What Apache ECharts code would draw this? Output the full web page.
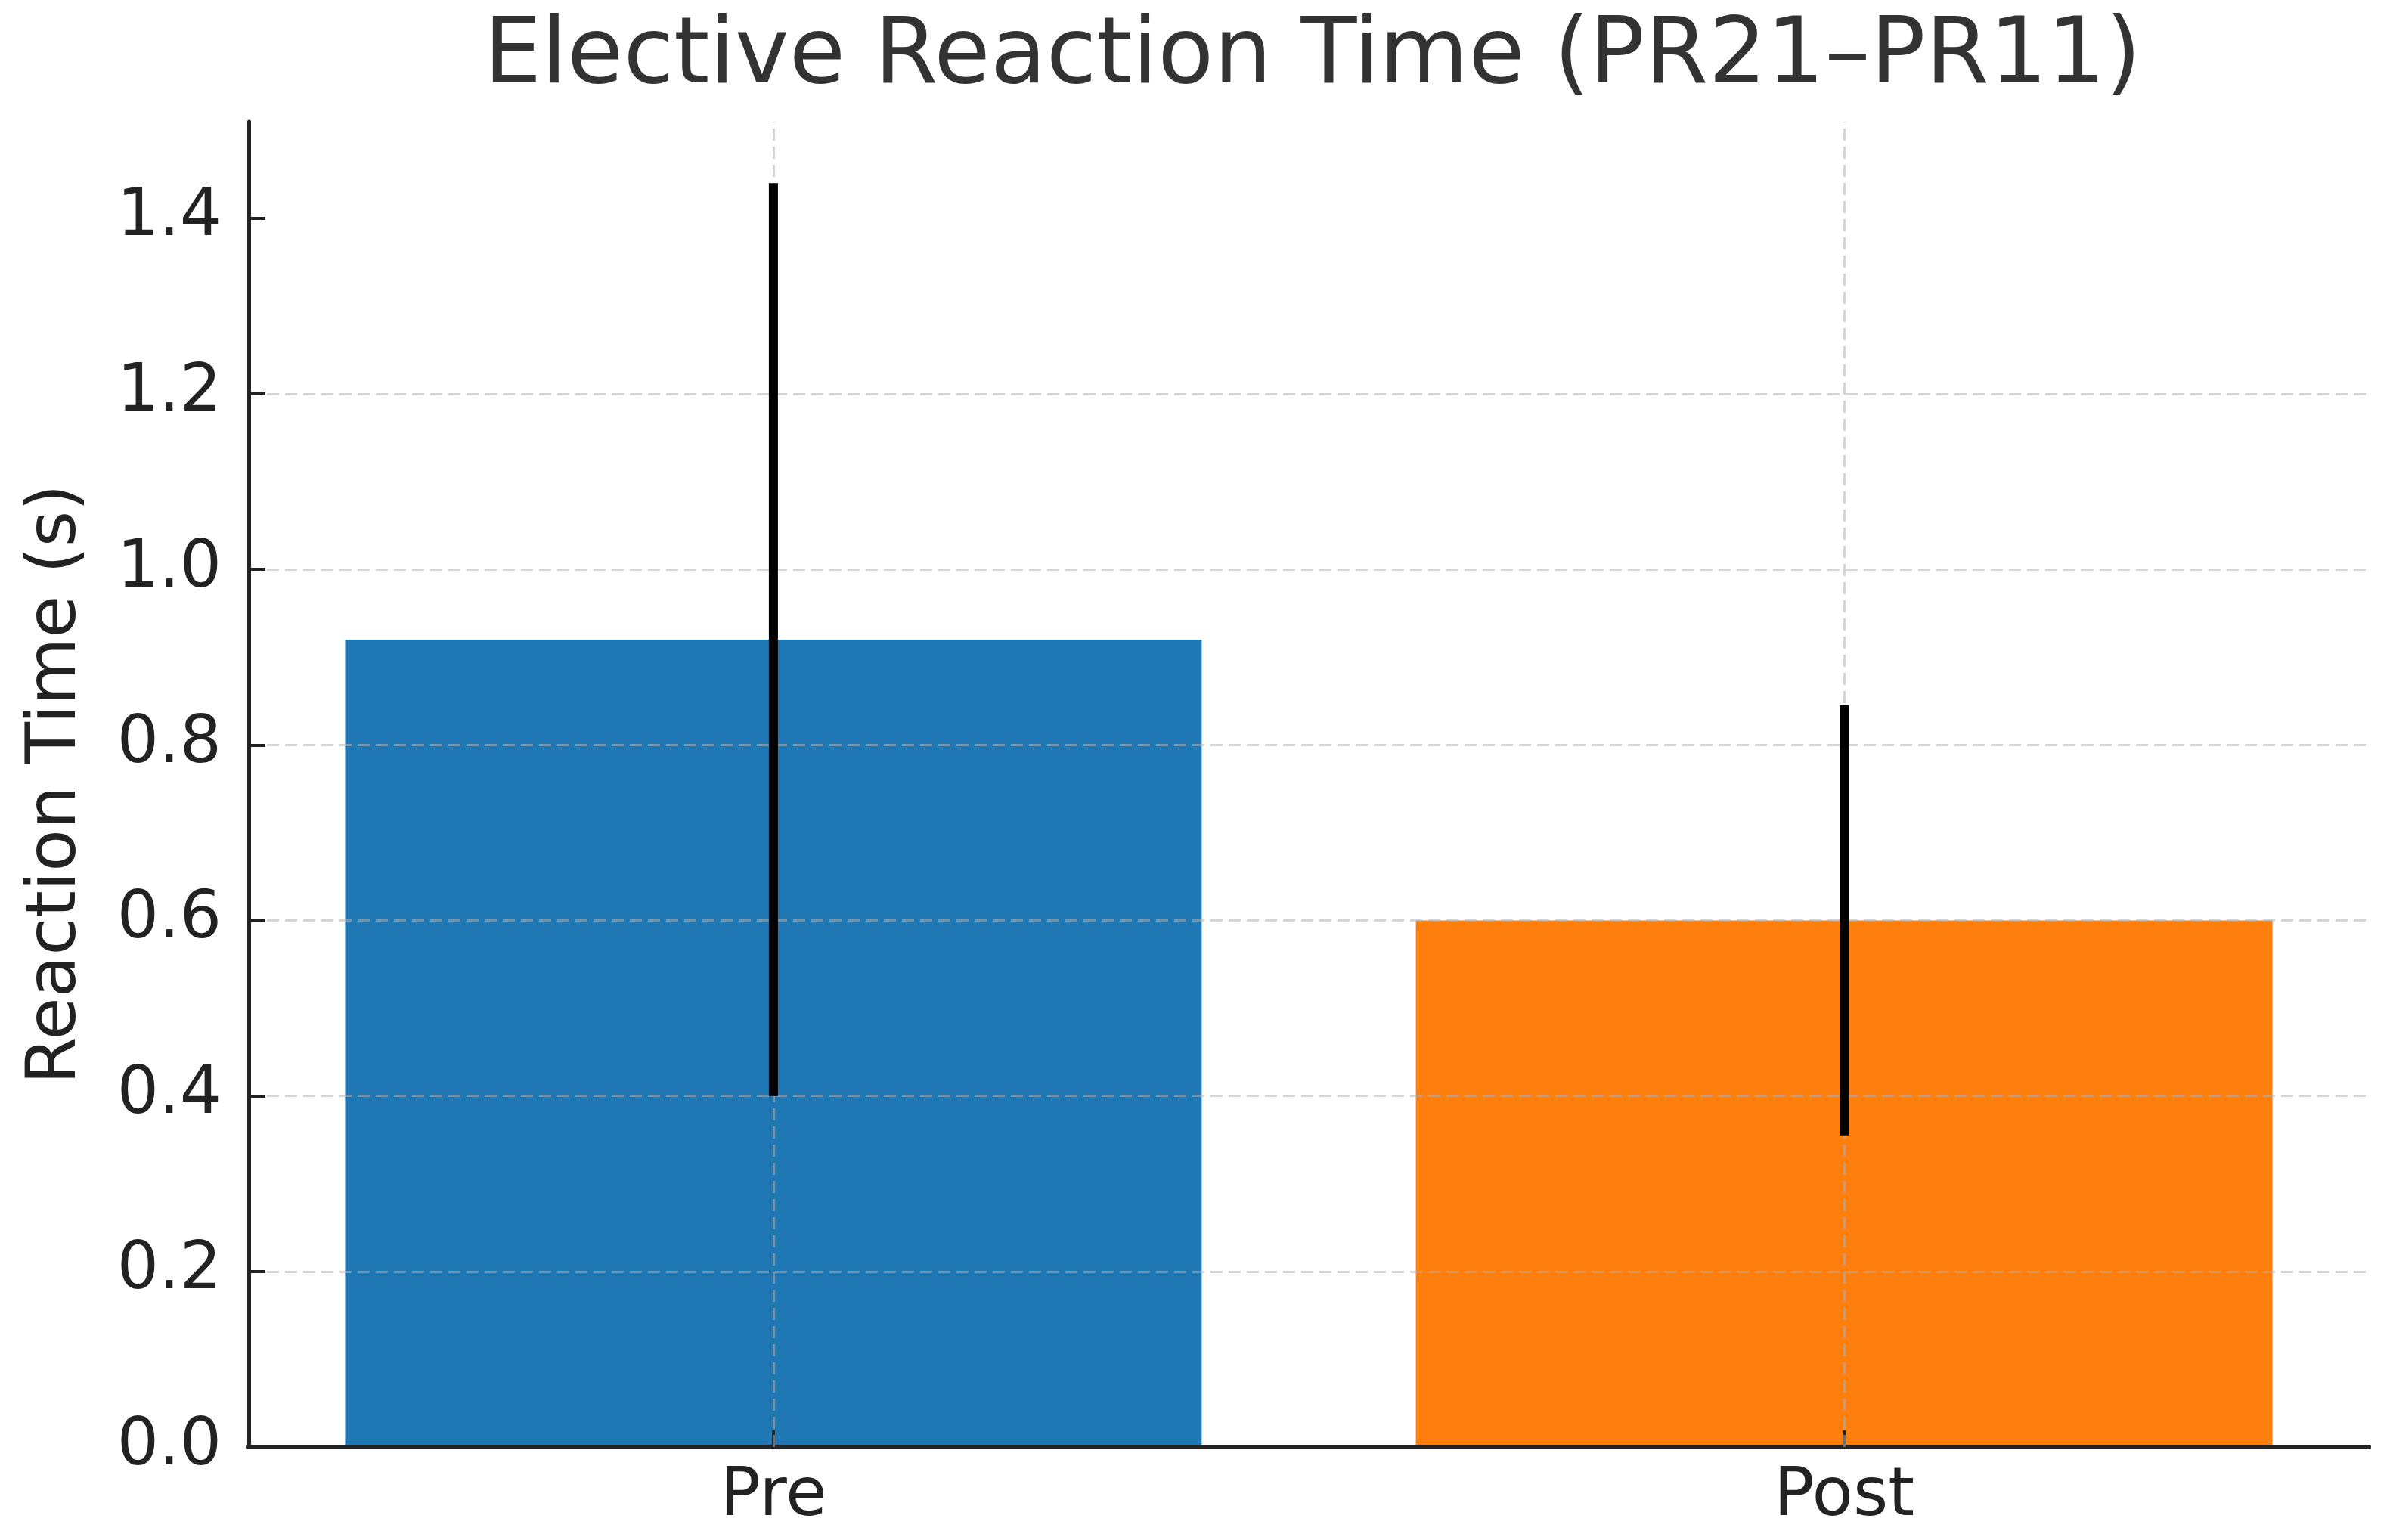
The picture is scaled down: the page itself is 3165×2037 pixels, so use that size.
<!DOCTYPE html>
<html lang="en">
<head>
  <meta charset="UTF-8">
  <title>Elective Reaction Time</title>
  <style>
    html, body { margin: 0; padding: 0; background: #fff; }
    #main { width: 3165px; height: 2037px; }
  </style>
</head>
<body>
  <div id="main"></div>
  <script src="https://cdn.jsdelivr.net/npm/echarts@6/dist/echarts.min.js"></script>
  <script>
    // data
    var categories = ['Pre', 'Post'];
    var means = [0.92, 0.60];
    var errors = [0.52, 0.245];
    var barColors = ['#1f77b4', '#ff7f0e'];
    var yTicks = [0, 0.2, 0.4, 0.6, 0.8, 1.0, 1.2, 1.4];

    var font = 'DejaVu Sans';
    var gridColor = 'rgba(176,176,176,0.55)';
    var xPos = categories.map(function (c, i) { return i; });

    var chart = echarts.init(document.getElementById('main'));

    // x axis runs like matplotlib's: bars of width 0.8 plus 5% margins
    var plotWidth = 3165 - 329 - 32;
    var barPx = plotWidth / 1.98 * 0.8;

    var barData = means.map(function (m, i) {
      return { value: [i, m], itemStyle: { color: barColors[i] } };
    });
    var errData = means.map(function (m, i) {
      return [i, m - errors[i], m + errors[i]];
    });

    var option = {
      animation: false,
      title: {
        text: 'Elective Reaction Time (PR21\u2013PR11)',
        left: 1731,
        textAlign: 'center',
        top: 12,
        textStyle: { fontFamily: font, fontSize: 121, fontWeight: 'normal', color: '#333' }
      },
      grid: { left: 329, right: 32, top: 161, bottom: 123, outerBoundsMode: 'none', containLabel: false },
      xAxis: {
        type: 'value',
        min: -0.49,
        max: 1.49,
        z: 3,
        axisLine: { onZero: false, lineStyle: { color: '#222', width: 6 } },
        axisTick: { show: true, inside: true, length: 22, customValues: xPos, lineStyle: { color: '#222', width: 4 } },
        axisLabel: {
          fontFamily: font, fontSize: 89, color: '#222', margin: 22,
          customValues: xPos,
          formatter: function (v) { return categories[Math.round(v)]; }
        },
        splitLine: { show: false }
      },
      yAxis: {
        type: 'value',
        min: 0,
        max: 1.51,
        interval: 0.2,
        z: 3,
        name: 'Reaction Time (s)',
        nameLocation: 'middle',
        nameRotate: 90,
        nameGap: 208,
        nameTextStyle: { fontFamily: font, fontSize: 91, color: '#222' },
        axisLine: { show: true, onZero: false, lineStyle: { color: '#222', width: 5 } },
        axisTick: { show: true, inside: true, length: 22, customValues: yTicks, lineStyle: { color: '#222', width: 4 } },
        axisLabel: {
          fontFamily: font, fontSize: 87, color: '#222', margin: 36,
          customValues: yTicks,
          formatter: function (v) { return v.toFixed(1); }
        },
        splitLine: {
          show: true,
          showMinLine: false,
          showMaxLine: false,
          lineStyle: { color: gridColor, width: 3, type: [16, 8] }
        }
      },
      series: [
        {
          type: 'bar',
          data: barData,
          barWidth: barPx,
          z: 2,
          markLine: {
            silent: true,
            symbol: 'none',
            label: { show: false },
            lineStyle: { color: gridColor, width: 3, type: [16, 8] },
            data: xPos.map(function (x) { return { xAxis: x }; })
          }
        },
        {
          // error bars, no caps
          type: 'custom',
          z: 20,
          data: errData,
          renderItem: function (params, api) {
            var lo = api.coord([api.value(0), api.value(1)]);
            var hi = api.coord([api.value(0), api.value(2)]);
            return {
              type: 'line',
              shape: { x1: lo[0], y1: lo[1], x2: hi[0], y2: hi[1] },
              style: { stroke: '#000', lineWidth: 12 }
            };
          }
        }
      ]
    };

    chart.setOption(option);
  </script>
</body>
</html>
